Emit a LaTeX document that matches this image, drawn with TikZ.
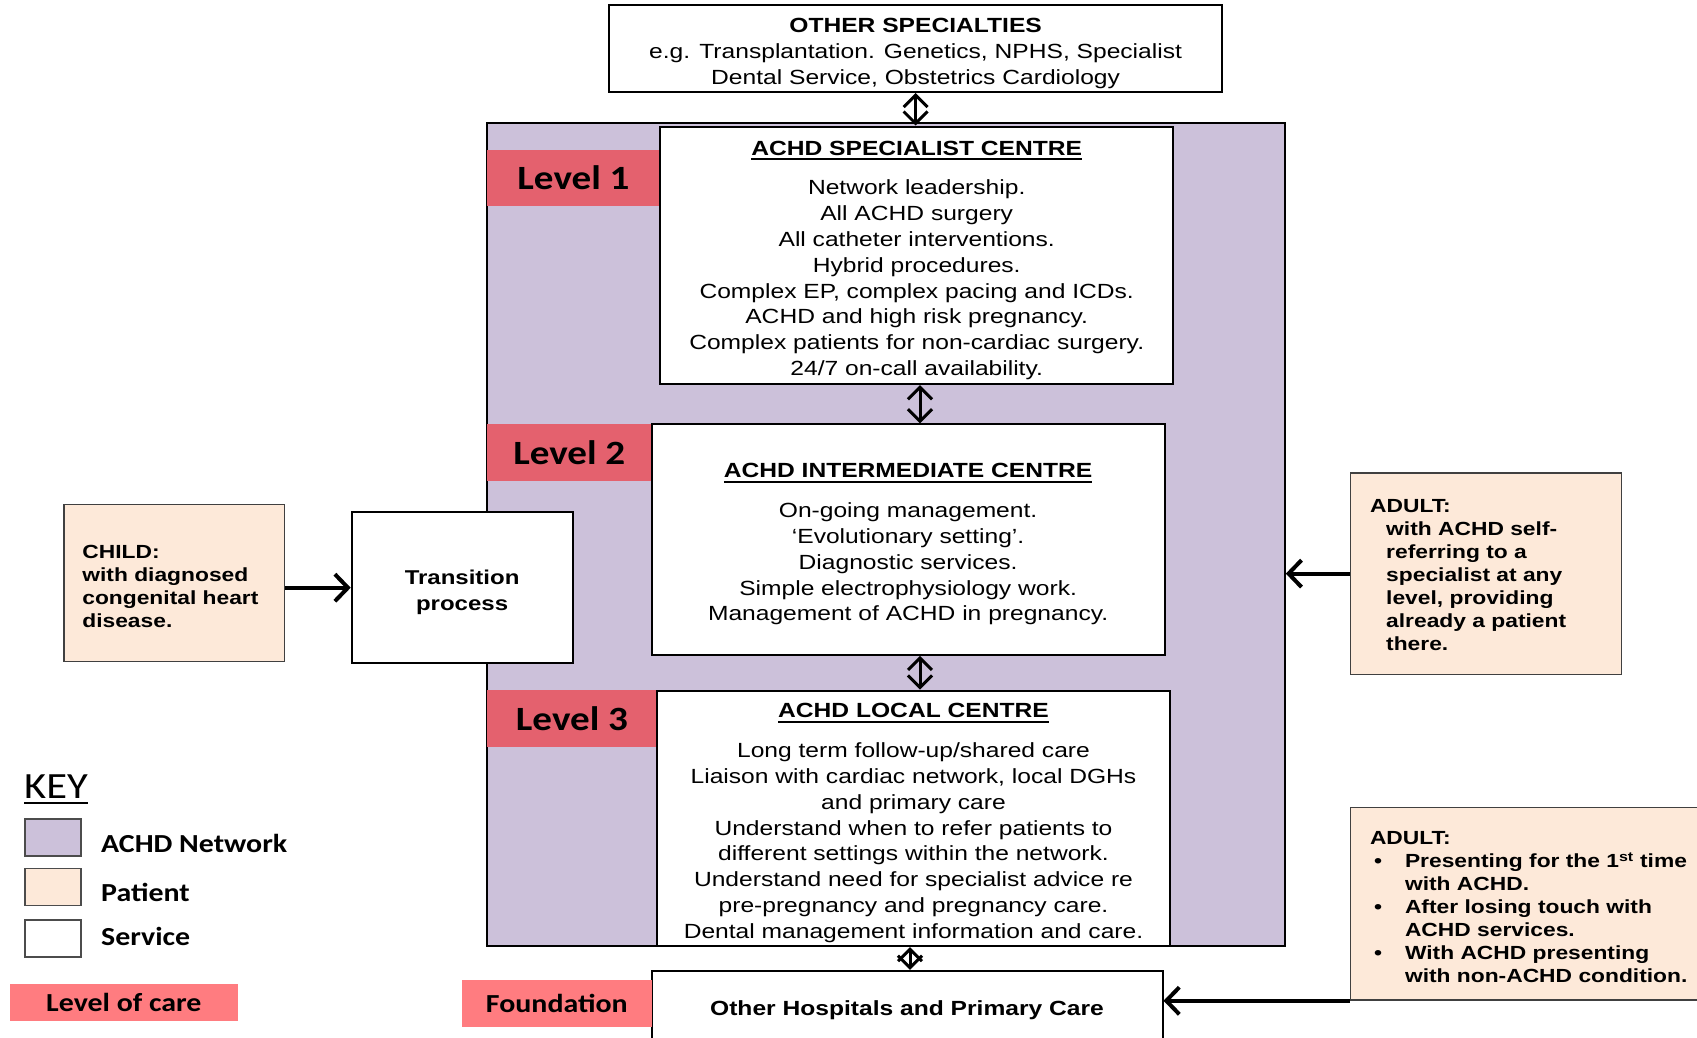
\documentclass[tikz,border=0pt]{standalone}
\usepackage{fontspec}
\setmainfont{Liberation Sans}[FakeStretch=1.2]
\newfontfamily\levelfont{Carlito}[FakeStretch=1.15]
\usetikzlibrary{arrows.meta}
\definecolor{netpurple}{RGB}{204,193,218}
\definecolor{patpeach}{RGB}{253,233,217}
\definecolor{lvlred}{RGB}{228,97,110}
\definecolor{keyred}{RGB}{255,124,128}
\newsavebox\ulbox
\newcommand\titleul[1]{\sbox\ulbox{#1}\rlap{\rule[-5pt]{\wd\ulbox}{2pt}}\usebox\ulbox}
\newcommand\bul{\hspace*{4pt}\makebox[31pt][l]{\textbullet}}
\newcommand\padtop[1]{\rule{0pt}{#1}}

\begin{document}
\begin{tikzpicture}[x=1pt,y=-1pt]
\tikzset{svc/.style={draw, line width=2pt, fill=white, align=center, font=\fontsize{20.5}{25.8}\selectfont}}
\tikzset{pat/.style={draw=black!75, line width=1.5pt, fill=patpeach, align=left, font=\fontsize{19}{23}\selectfont\bfseries}}
\tikzset{lvl/.style={fill=lvlred, inner sep=0pt, font=\levelfont\bfseries\fontsize{34}{40}\selectfont}}
\tikzset{keytag/.style={fill=keyred, inner sep=0pt, font=\levelfont\bfseries\fontsize{26}{30}\selectfont}}
\tikzset{keybox/.style={draw=black!70, line width=1.5pt, minimum width=56pt, minimum height=37pt}}
\tikzset{keytxt/.style={anchor=base west, inner sep=0pt, font=\levelfont\bfseries\fontsize{26}{30}\selectfont}}
\tikzset{dbl/.style={{Straight Barb[length=12pt,width=24pt]}-{Straight Barb[length=12pt,width=24pt]}, line width=3pt}}
\tikzset{feed/.style={-{Straight Barb[length=13pt,width=27pt]}, line width=4pt}}

\useasboundingbox (0,0) rectangle (1697,1037);
\clip (0,0) rectangle (1697,1037);
\fill[white] (0,0) rectangle (1697,1037);

\node[draw, line width=2pt, fill=netpurple, minimum width=797.7pt, minimum height=822.6pt] (net) at (885.9,534.7) {};
\node[lvl, minimum width=173pt, minimum height=56pt] (lv1) at (573.5,177.5) {Level 1};
\node[lvl, minimum width=164.5pt, minimum height=56.3pt] (lv2) at (569.3,452.5) {Level 2};
\node[lvl, minimum width=170pt, minimum height=56.3pt] (lv3) at (572,718.6) {Level 3};

\node[svc, minimum width=612.6pt, minimum height=84.4pt] (other) at (915.6,48.7)
  {\padtop{24pt}\textbf{OTHER SPECIALTIES}\\ e.g. Transplantation. Genetics, NPHS, Specialist\\ Dental Service, Obstetrics Cardiology};
\node[svc, minimum width=513pt, minimum height=257.6pt] (spec) at (916.7,255.4)
  {\padtop{24pt}\titleul{\bfseries ACHD SPECIALIST CENTRE}\\[14pt]
   Network leadership.\\ All ACHD surgery\\ All catheter interventions.\\ Hybrid procedures.\\
   Complex EP, complex pacing and ICDs.\\ ACHD and high risk pregnancy.\\
   Complex patients for non-cardiac surgery.\\ 24/7 on-call availability.};
\node[svc, minimum width=513.1pt, minimum height=230.5pt] (inter) at (908.1,539.6)
  {\padtop{24pt}\titleul{\bfseries ACHD INTERMEDIATE CENTRE}\\[14pt]
   On-going management.\\ ‘Evolutionary setting’.\\ Diagnostic services.\\
   Simple electrophysiology work.\\ Management of ACHD in pregnancy.};
\node[svc, minimum width=513pt, minimum height=255.5pt] (local) at (913.5,818.3)
  {\padtop{24pt}\titleul{\bfseries ACHD LOCAL CENTRE}\\[14pt]
   Long term follow-up/shared care\\ Liaison with cardiac network, local DGHs\\ and primary care\\
   Understand when to refer patients to\\ different settings within the network.\\
   Understand need for specialist advice re\\ pre-pregnancy and pregnancy care.\\
   Dental management information and care.};
\node[svc, minimum width=511pt, minimum height=74.4pt] (hosp) at (907,1008)
  {\padtop{20pt}\textbf{Other Hospitals and Primary Care}};
\node[keytag, minimum width=189.4pt, minimum height=47.6pt] (found) at (556.8,1003.3) {Foundation};

\node[pat, minimum width=220.7pt, minimum height=156.9pt, inner xsep=18.4pt, text width=183.9pt] (child) at (174.3,582.8)
  {\padtop{20pt}CHILD:\\ with diagnosed\\ congenital heart\\ disease.};
\node[svc, font=\fontsize{20}{26}\selectfont\bfseries, minimum width=220.8pt, minimum height=151.5pt] (trans) at (462.1,587.7)
  {\padtop{24pt}Transition\\ process};
\node[pat, minimum width=270.6pt, minimum height=201.3pt, inner xsep=19.5pt, text width=231.6pt] (adult1) at (1486,573.6)
  {\padtop{16pt}ADULT:\\ \hspace*{16pt}with ACHD self-\\ \hspace*{16pt}referring to a\\ \hspace*{16pt}specialist at any\\
   \hspace*{16pt}level, providing\\ \hspace*{16pt}already a patient\\ \hspace*{16pt}there.};
\node[pat, minimum width=359pt, minimum height=192.6pt, inner xsep=19.5pt, text width=320pt] (adult2) at (1530,903.7)
  {\padtop{20pt}ADULT:\\ \bul Presenting for the 1\textsuperscript{st} time\\ \hspace*{35pt}with ACHD.\\
   \bul After losing touch with\\ \hspace*{35pt}ACHD services.\\
   \bul With ACHD presenting\\ \hspace*{35pt}with non-ACHD condition.};

\draw[dbl] (other.south) -- (other.south |- spec.north);
\draw[dbl] ([xshift=3.3pt]spec.south) -- ([xshift=3.3pt]spec.south |- inter.north);
\draw[dbl] ([xshift=6.5pt]local.north) -- ([xshift=6.5pt]local.north |- inter.south);
\draw[dbl] ([xshift=3pt]hosp.north) -- ([xshift=3pt]hosp.north |- local.south);
\draw[feed] (trans.west -| child.east) -- (trans.west);
\draw[feed] (adult1.west) -- (adult1.west -| net.east);
\draw[feed] (adult2.south west) -- (adult2.south west -| hosp.east);

% key
\node[anchor=base west, inner sep=0pt, font=\levelfont\fontsize{37}{40}\selectfont] (keyhd) at (24,798.5) {\titleul{KEY}};
\node[keybox, fill=netpurple] (knet) at (53,837.7) {};
\node[keybox, fill=patpeach] (kpat) at (53,887) {};
\node[keybox, fill=white] (ksvc) at (53,938.4) {};
\node[keytxt] (tnet) at (101,852.4) {ACHD Network};
\node[keytxt] (tpat) at (101,901.4) {Patient};
\node[keytxt] (tsvc) at (101,945.4) {Service};
\node[keytag, minimum width=228.4pt, minimum height=36.8pt] (kcare) at (123.9,1002.2) {Level of care};
\end{tikzpicture}
\end{document}
